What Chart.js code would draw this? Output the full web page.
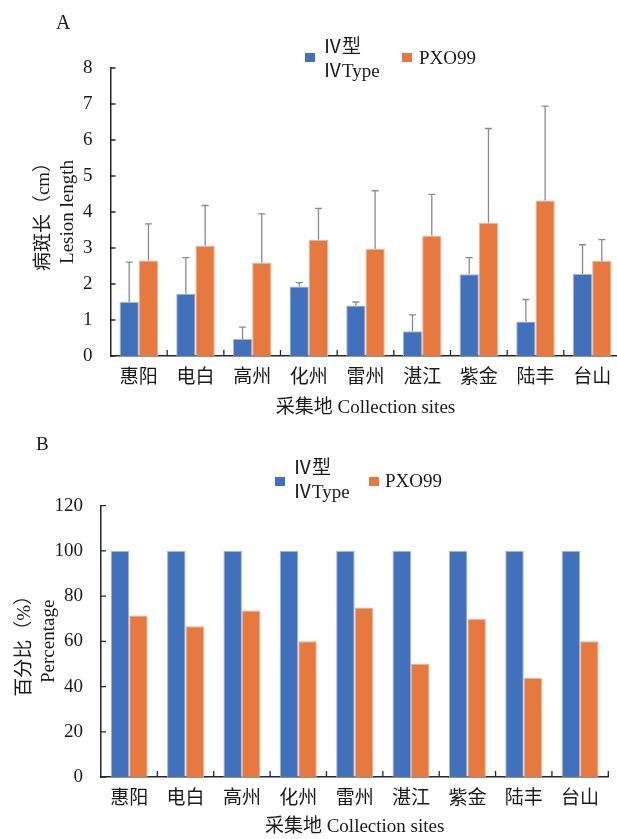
<!DOCTYPE html>
<html>
<head>
<meta charset="utf-8">
<script src="https://cdn.jsdelivr.net/npm/chart.js@4.4.1/dist/chart.umd.min.js"></script>
<style>
  html, body { margin: 0; padding: 0; background: #fff; overflow: hidden; width: 617px; height: 839px; }
  body { position: relative; font-family: 'Liberation Serif', 'Noto Sans CJK SC', serif; color: #1a1a1a; }
  canvas { position: absolute; left: 0; }
  .lbl { position: absolute; font-size: 19px; line-height: 19px; white-space: nowrap; }
  .sw { position: absolute; width: 10px; height: 9px; }
</style>
</head>
<body>
<canvas id="graphA" width="630" height="420" style="top:0"></canvas>
<canvas id="graphB" width="617" height="419" style="top:420px"></canvas>

<div class="lbl" style="left:56px; top:12px; font-size:20px; line-height:20px">A</div>
<div class="sw" style="left:305px; top:53px; background:#4171BA"></div>
<div class="lbl" style="left:323px; top:37px">Ⅳ型</div>
<div class="lbl" style="left:323px; top:61px">ⅣType</div>
<div class="sw" style="left:402px; top:53px; background:#E5793F"></div>
<div class="lbl" style="left:419px; top:48px">PXO99</div>

<div class="lbl" style="left:36px; top:434px">B</div>
<div class="sw" style="left:275px; top:477px; background:#4171BA"></div>
<div class="lbl" style="left:293px; top:458px">Ⅳ型</div>
<div class="lbl" style="left:293px; top:482px">ⅣType</div>
<div class="sw" style="left:369px; top:477px; background:#E5793F"></div>
<div class="lbl" style="left:385px; top:471px">PXO99</div>

<script>
// sites
const sites = ['惠阳', '电白', '高州', '化州', '雷州', '湛江', '紫金', '陆丰', '台山']

// A: lesion length (cm), mean and upper error (sd)
const lesionIV = [1.50, 1.73, 0.47, 1.93, 1.40, 0.69, 2.27, 0.96, 2.28]
const lesionIVErr = [1.11, 1.00, 0.33, 0.11, 0.10, 0.45, 0.46, 0.61, 0.81]
const lesionPXO = [2.65, 3.06, 2.59, 3.23, 2.97, 3.34, 3.70, 4.32, 2.64]
const lesionPXOErr = [1.02, 1.12, 1.36, 0.87, 1.62, 1.15, 2.62, 2.62, 0.59]

// B: percentage (%)
const pctIV = [100, 100, 100, 100, 100, 100, 100, 100, 100]
const pctPXO = [71.4, 66.7, 73.7, 60, 75, 50, 70, 43.8, 60]

const BLUE = '#4171BA'
const ORANGE = '#E5793F'
const FONT = "'Liberation Serif', 'Noto Sans CJK SC', serif"
const AXIS = '#262626'

// error bars (upward only) + inward tick marks
const extrasPlugin = {
    id: 'extras',
    afterDatasetsDraw(chart) {
        const errs = chart.options.plugins.extras.errors
        if (!errs) return
        const ctx = chart.ctx
        const yScale = chart.scales.y
        ctx.save()
        ctx.strokeStyle = '#8a8a8a'
        ctx.lineWidth = 1.3
        chart.data.datasets.forEach((ds, di) => {
            const meta = chart.getDatasetMeta(di)
            meta.data.forEach((bar, i) => {
                const top = yScale.getPixelForValue(ds.data[i] + errs[di][i])
                ctx.beginPath()
                ctx.moveTo(bar.x, bar.y)
                ctx.lineTo(bar.x, top)
                ctx.moveTo(bar.x - 3.5, top)
                ctx.lineTo(bar.x + 3.5, top)
                ctx.stroke()
            })
        })
        ctx.restore()
    },
    afterDraw(chart) {
        const ctx = chart.ctx
        const {x, y} = chart.scales
        const area = chart.chartArea
        ctx.save()
        ctx.strokeStyle = AXIS
        ctx.lineWidth = 1.3
        ctx.beginPath()
        y.ticks.forEach(t => {
            const py = y.getPixelForValue(t.value)
            ctx.moveTo(area.left, py)
            ctx.lineTo(area.left + 5, py)
        })
        const half = (x.getPixelForValue(1) - x.getPixelForValue(0)) / 2
        for (let i = 0; i < sites.length; i++) {
            const px = x.getPixelForValue(i) + half
            ctx.moveTo(px, area.bottom)
            ctx.lineTo(px, area.bottom - 6)
        }
        ctx.stroke()
        ctx.restore()
    }
}

function makeChart(id, dataIV, dataPXO, errors, opt) {
    const ctx = document.getElementById(id).getContext('2d')
    return new Chart(ctx, {
        type: 'bar',
        data: {
            labels: sites,
            datasets: [{
                label: 'ⅣType',
                backgroundColor: BLUE,
                borderColor: '#9DB4DD',
                borderWidth: 1,
                data: dataIV
            }, {
                label: 'PXO99',
                backgroundColor: ORANGE,
                borderColor: '#F2B08C',
                borderWidth: 1,
                data: dataPXO
            }]
        },
        plugins: [extrasPlugin],
        options: {
            responsive: false,
            animation: false,
            layout: { padding: opt.padding },
            datasets: { bar: { categoryPercentage: opt.catPct, barPercentage: 1 } },
            plugins: {
                legend: { display: false },
                tooltip: { enabled: false },
                extras: { errors: errors }
            },
            scales: {
                x: {
                    grid: { display: false },
                    border: { display: true, color: AXIS, width: 1.5 },
                    ticks: { color: '#1a1a1a', padding: 3, font: { family: FONT, size: 19 } },
                    title: {
                        display: true,
                        text: '采集地 Collection sites',
                        color: '#1a1a1a',
                        padding: 0,
                        font: { family: FONT, size: 19, lineHeight: 1.25 }
                    },
                    afterFit: s => { s.height = opt.xHeight }
                },
                y: {
                    min: 0,
                    max: opt.max,
                    grid: { display: false },
                    border: { display: true, color: AXIS, width: 1.5 },
                    ticks: { stepSize: opt.step, color: '#1a1a1a', padding: 10, font: { family: FONT, size: 19 } },
                    title: {
                        display: true,
                        text: opt.yTitle,
                        color: '#1a1a1a',
                        padding: { top: opt.titlePad, bottom: 0 },
                        font: { family: FONT, size: 19, lineHeight: 1.25 }
                    },
                    afterFit: s => { s.width = opt.yWidth }
                }
            }
        }
    })
}

makeChart('graphA', lesionIV, lesionPXO, [lesionIVErr, lesionPXOErr], {
    padding: { left: 0, top: 68, right: 9.5, bottom: 0 },
    catPct: 0.68, xHeight: 64, yWidth: 110.5, max: 8, step: 1,
    titlePad: 32, yTitle: ['病斑长（cm）', 'Lesion length']
})

makeChart('graphB', pctIV, pctPXO, null, {
    padding: { left: 0, top: 85.7, right: 8.7, bottom: 0 },
    catPct: 0.656, xHeight: 62, yWidth: 101, max: 120, step: 20,
    titlePad: 13, yTitle: ['百分比（%）', 'Percentage']
})
</script>
</body>
</html>
